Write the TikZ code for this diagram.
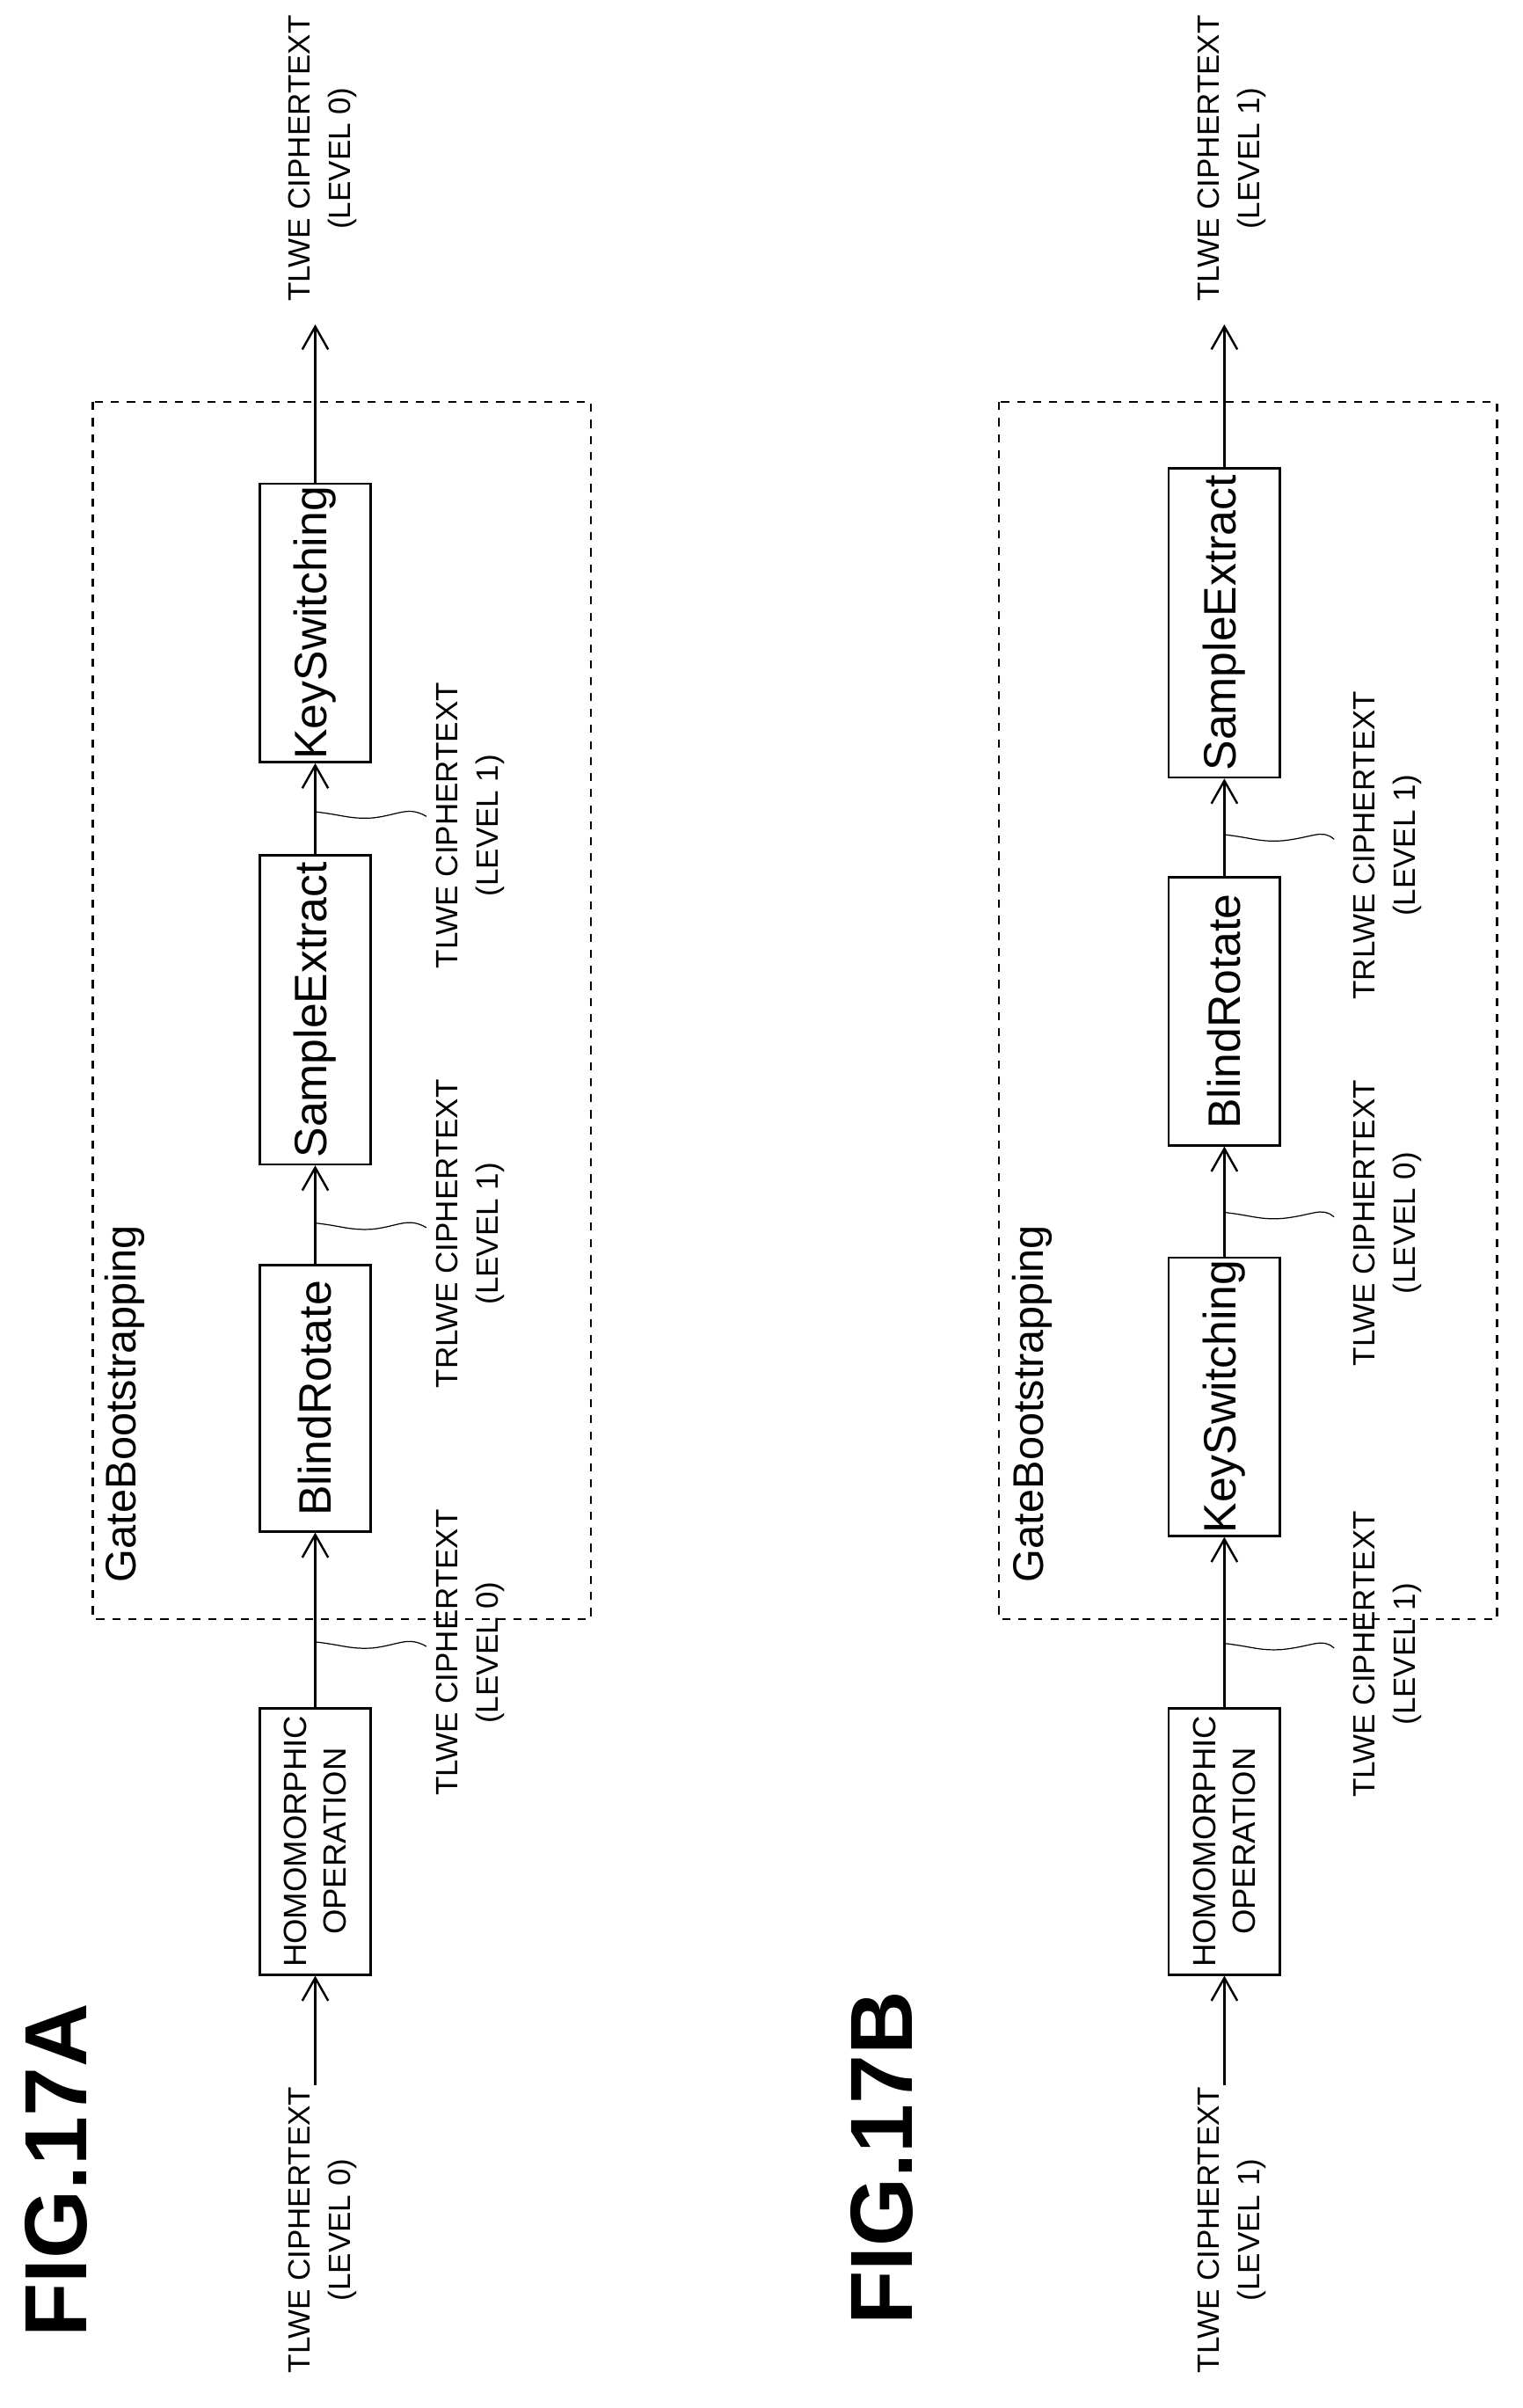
\documentclass[tikz,border=0pt]{standalone}
\usepackage{fontspec}
\setmainfont{Liberation Sans}
\usetikzlibrary{arrows.meta}

\begin{document}
\begin{tikzpicture}[x=0.02cm,y=-0.02cm]
        \tikzset{block/.style = {shape=rectangle,draw,thick,rotate=90,minimum height=1.46cm,inner sep=1pt,font=\fontsize{17}{19}\selectfont}}
        \tikzset{homblock/.style = {block,minimum width=3.5cm,align=center,font=\fontsize{12}{15}\selectfont}}
        \tikzset{note/.style = {rotate=90,align=center,inner sep=1pt,font=\fontsize{11.5}{15}\selectfont}}
        \tikzset{fig/.style = {rotate=90,font=\bfseries\fontsize{33}{35}\selectfont}}
        \tikzset{edge/.style = {-{Straight Barb[length=3mm,width=3.4mm]},thick}}
        \tikzset{lead/.style = {thin}}
        \useasboundingbox (0,0) rectangle (1000,1581);
        % FIG.17A
        \node[fig] (figa) at (37,1425) {FIG.17A};
        \draw[thick,dashed] (61,264) rectangle (388,1063);
        \node[rotate=90,anchor=west,font=\fontsize{16}{18}\selectfont] (gba) at (82,1045) {GateBootstrapping};
        \node[note,anchor=east] (ina) at (212,1368) {TLWE CIPHERTEXT\\(LEVEL 0)};
        \coordinate (ina0) at (207,1369);
        \node[homblock] (homa) at (207,1209) {HOMOMORPHIC\\OPERATION};
        \node[block,minimum width=3.5cm] (bra) at (207,918) {BlindRotate};
        \node[block,minimum width=4.06cm] (sea) at (207,663) {SampleExtract};
        \node[block,minimum width=3.5cm] (ksa) at (207,409) {KeySwitching};
        \coordinate (outa) at (207,213);
        \node[note,anchor=west] (labouta) at (212,200) {TLWE CIPHERTEXT\\(LEVEL 0)};
        \draw[edge] (ina0) -- (homa.west);
        \draw[edge] (homa.east) -- (bra.west);
        \draw[edge] (bra.east) -- (sea.west);
        \draw[edge] (sea.east) -- (ksa.west);
        \draw[edge] (ksa.east) -- (outa);
        % labels on the links
        \coordinate (a1) at (207,1078);
        \coordinate (a2) at (207,803);
        \coordinate (a3) at (207,533);
        \node[note] (la1) at (309,1085) {TLWE CIPHERTEXT\\(LEVEL 0)};
        \node[note] (la2) at (309,810) {TRLWE CIPHERTEXT\\(LEVEL 1)};
        \node[note] (la3) at (309,542) {TLWE CIPHERTEXT\\(LEVEL 1)};
        \draw[lead] (a1) .. controls (225,1080) and (230,1083) .. (245,1082) .. controls (262,1080) and (268,1074) .. (280,1081);
        \draw[lead] (a2) .. controls (225,805) and (230,808) .. (245,807) .. controls (262,805) and (268,799) .. (280,806);
        \draw[lead] (a3) .. controls (225,535) and (230,538) .. (245,537) .. controls (262,535) and (268,529) .. (280,536);
        % FIG.17B
        \node[fig] (figb) at (579,1417) {FIG.17B};
        \draw[thick,dashed] (656,264) rectangle (983,1063);
        \node[rotate=90,anchor=west,font=\fontsize{16}{18}\selectfont] (gbb) at (678,1045) {GateBootstrapping};
        \node[note,anchor=east] (inb) at (809,1368) {TLWE CIPHERTEXT\\(LEVEL 1)};
        \coordinate (inb0) at (804,1369);
        \node[homblock] (homb) at (804,1209) {HOMOMORPHIC\\OPERATION};
        \node[block,minimum width=3.5cm] (ksb) at (804,917) {KeySwitching};
        \node[block,minimum width=3.52cm] (brb) at (804,664) {BlindRotate};
        \node[block,minimum width=4.06cm] (seb) at (804,409) {SampleExtract};
        \coordinate (outb) at (804,213);
        \node[note,anchor=west] (laboutb) at (809,200) {TLWE CIPHERTEXT\\(LEVEL 1)};
        \draw[edge] (inb0) -- (homb.west);
        \draw[edge] (homb.east) -- (ksb.west);
        \draw[edge] (ksb.east) -- (brb.west);
        \draw[edge] (brb.east) -- (seb.west);
        \draw[edge] (seb.east) -- (outb);
        % labels on the links
        \coordinate (b1) at (804,1079);
        \coordinate (b2) at (804,796);
        \coordinate (b3) at (804,548);
        \node[note] (lb1) at (911,1086) {TLWE CIPHERTEXT\\(LEVEL 1)};
        \node[note] (lb2) at (911,803) {TLWE CIPHERTEXT\\(LEVEL 0)};
        \node[note] (lb3) at (911,555) {TRLWE CIPHERTEXT\\(LEVEL 1)};
        \draw[lead] (b1) .. controls (822,1081) and (827,1084) .. (842,1083) .. controls (862,1081) and (868,1075) .. (876,1082);
        \draw[lead] (b2) .. controls (822,798) and (827,801) .. (842,800) .. controls (862,798) and (868,792) .. (876,799);
        \draw[lead] (b3) .. controls (822,550) and (827,553) .. (842,552) .. controls (862,550) and (868,544) .. (876,551);
\end{tikzpicture}
\end{document}
